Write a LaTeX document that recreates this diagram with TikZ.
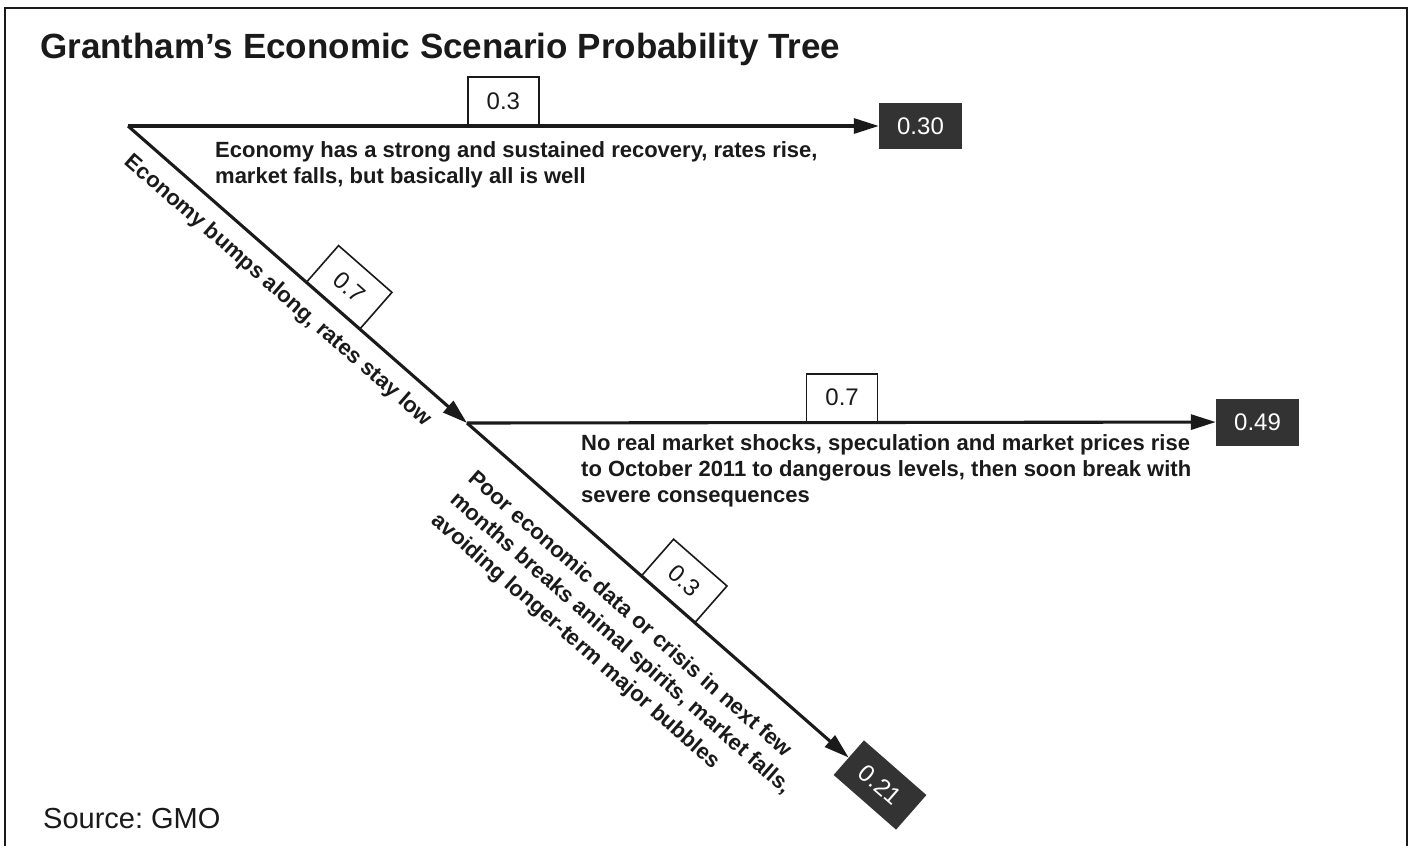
\documentclass[tikz,border=0pt]{standalone}
\usepackage{fontspec}
\setmainfont{Liberation Sans}
\usetikzlibrary{arrows.meta,calc}
\definecolor{boxgray}{HTML}{333333}
\definecolor{ink}{HTML}{1A1A1A}
\frenchspacing
\begin{document}
\begin{tikzpicture}[x=1pt,y=-1pt,
  conn/.style={line width=3.1pt, draw=ink, -{Triangle[length=25pt,width=15pt]}},
  pbox/.style={draw=ink, line width=1.6pt, fill=white, minimum width=71pt, minimum height=48pt, inner sep=0pt, text=ink, font=\fontsize{24}{28}\selectfont},
  resbox/.style={fill=boxgray, text=white, minimum width=83pt, minimum height=46pt, inner sep=0pt, font=\fontsize{24}{28}\selectfont},
  desc/.style={font=\fontsize{22}{26}\selectfont\bfseries, align=left, inner sep=0pt, text=ink},
  frameline/.style={line width=2.8pt, draw=ink},
]
\useasboundingbox (0,0) rectangle (1409,846);
\fill[white] (0,0) rectangle (1409,846);
\draw[frameline] (5,846) -- (5,8) -- (1407,8) -- (1407,846);

\node[anchor=base west, inner sep=0pt, text=ink, font=\fontsize{35}{40}\selectfont\bfseries] (title) at (40,58) {Grantham’s Economic Scenario Probability Tree};
\node[anchor=base west, inner sep=0pt, text=ink, font=\fontsize{29}{34}\selectfont] (source) at (43,828) {Source: GMO};

\coordinate (root) at (128,126);
\coordinate (mid) at (467,423);
\node[resbox] (r1) at (920.5,126) {0.30};
\node[resbox, minimum height=47pt] (r2) at (1257.5,422) {0.49};
\node[resbox, rotate=-41.2] (r3) at (880,785) {0.21};

\draw[conn] (root) -- node[pbox, pos=0.5, anchor=south] (p1) {0.3} (r1);
\draw[conn] (root) -- node[pbox, sloped, pos=0.605, anchor=south] (p2) {0.7} (mid);
\draw[conn] (mid) -- node[pbox, pos=0.501, anchor=south] (p3) {0.7} (r2);
\draw[conn] (mid) -- node[pbox, sloped, pos=0.527, anchor=south] (p4) {0.3} (r3);

\node[desc, anchor=north west] (t1) at (215,141) {Economy has a strong and sustained recovery, rates rise,\\market falls, but basically all is well};
\node[desc, anchor=north west] (t2) at (581,434) {No real market shocks, speculation and market prices rise\\to October 2011 to dangerous levels, then soon break with\\severe consequences};
\node[desc, rotate=-41.2, anchor=center] (t3) at (278,291) {Economy bumps along, rates stay low};
\node[desc, rotate=-41.2, anchor=north west, font=\fontsize{22}{28}\selectfont\bfseries] (t4) at (478,468) {Poor economic data or crisis in next few\\months breaks animal spirits, market falls,\\avoiding longer-term major bubbles};
\end{tikzpicture}
\end{document}
